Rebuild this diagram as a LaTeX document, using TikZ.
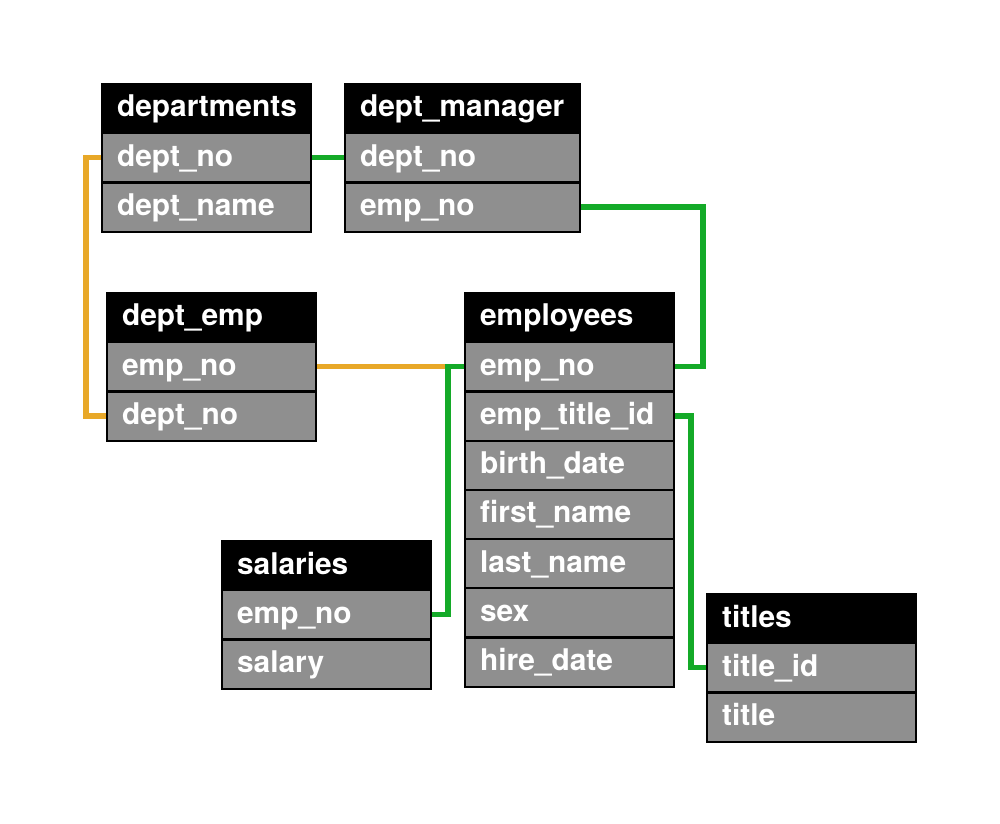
\documentclass[tikz,border=0pt]{standalone}
\usepackage{fontspec}
\setmainfont{TeX Gyre Heros}
\usepackage{tikz}
\usetikzlibrary{positioning}

\definecolor{linkorange}{RGB}{232,168,40}
\definecolor{linkgreen}{RGB}{20,170,40}
\definecolor{rowgray}{RGB}{143,143,143}

\begin{document}
\begin{tikzpicture}[x=0.02cm, y=-0.02cm,
    cell/.style={draw=black, line width=1.2pt, anchor=north west, text=white,
      font=\fontsize{17}{20}\selectfont\bfseries, inner xsep=0.3cm, inner ysep=0pt,
      minimum height=0.984cm, text height=12.5pt, text depth=3pt, align=left,
      text width=3.58cm},
    head/.style={cell, fill=black},
    row/.style={cell, fill=rowgray},
    wide/.style={text width=4.1cm},
    link/.style={line width=3pt},
    orangelink/.style={link, draw=linkorange},
    greenlink/.style={link, draw=linkgreen}]

  \useasboundingbox (0,0) rectangle (1000,824);

  \node[head] (dep) at (101,83) {departments};
  \foreach \t [count=\i] in {dept\_no, dept\_name}
    \node[row] (dep-\i) at (101,{83+49.2*\i}) {\t};

  \node[head, wide] (mgr) at (344,83) {dept\_manager};
  \foreach \t [count=\i] in {dept\_no, emp\_no}
    \node[row, wide] (mgr-\i) at (344,{83+49.2*\i}) {\t};

  \node[head] (dempl) at (106,292) {dept\_emp};
  \foreach \t [count=\i] in {emp\_no, dept\_no}
    \node[row] (dempl-\i) at (106,{292+49.2*\i}) {\t};

  \node[head] (emp) at (464,292) {employees};
  \foreach \t [count=\i] in {emp\_no, emp\_title\_id, birth\_date, first\_name,
      last\_name, sex, hire\_date}
    \node[row] (emp-\i) at (464,{292+49.2*\i}) {\t};

  \node[head] (sal) at (221,540) {salaries};
  \foreach \t [count=\i] in {emp\_no, salary}
    \node[row] (sal-\i) at (221,{540+49.2*\i}) {\t};

  \node[head] (tit) at (706,593) {titles};
  \foreach \t [count=\i] in {title\_id, title}
    \node[row] (tit-\i) at (706,{593+49.2*\i}) {\t};

  \draw[orangelink] (dep-1.west) -- ++(-15,0) |- (dempl-2.west);
  \draw[orangelink] (dempl-1.east) -- (emp-1.west);
  \draw[greenlink] (dep-1.east) -- (mgr-1.west);
  \draw[greenlink] (mgr-2.east) -- ++(122,0) |- (emp-1.east);
  \draw[greenlink] (sal-1.east) -- ++(16,0) |- (emp-1.west);
  \draw[greenlink] (emp-2.east) -- ++(16,0) |- (tit-1.west);

\end{tikzpicture}
\end{document}
